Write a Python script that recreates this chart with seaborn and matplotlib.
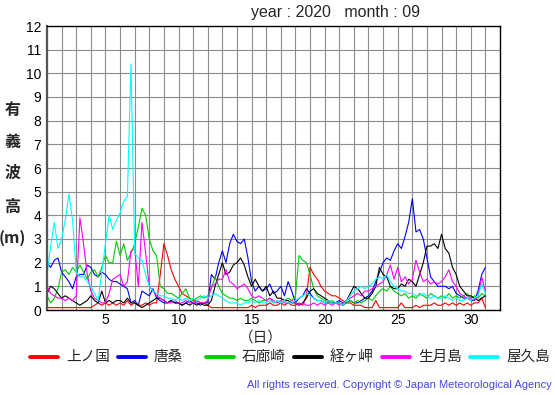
import numpy as np
import pandas as pd
import matplotlib
matplotlib.use("Agg")
import matplotlib.pyplot as plt
from matplotlib.lines import Line2D
import seaborn as sns

# 6-hourly samples, 1 Sep 00h .. 1 Oct 00h
days = np.arange(1, 31.01, 0.25)

stations = ["上ノ国", "唐桑", "石廊崎", "経ヶ岬", "生月島", "屋久島"]
colors = ["#ff0000", "#0000ff", "#00cc00", "#000000", "#ff00ff", "#00ffff"]

kaminokuni = [
    0.1, 0.1, 0.1, 0.1,  0.1, 0.1, 0.1, 0.1,  0.1, 0.1, 0.1, 0.1,  0.1, 0.2, 0.3, 0.2,
    0.3, 0.2, 0.3, 0.2,  0.3, 0.2, 0.4, 0.2,  0.3, 0.2, 0.2, 0.3,  0.2, 0.3, 0.3, 1.5,
    2.8, 2.3, 1.7, 1.3,  1.0, 0.7, 0.6, 0.5,  0.4, 0.4, 0.3, 0.3,  0.2, 0.1, 0.1, 0.1,
    0.1, 0.1, 0.1, 0.1,  0.1, 0.1, 0.1, 0.1,  0.2, 0.1, 0.2, 0.2,  0.2, 0.3, 0.2, 0.2,
    0.3, 0.2, 0.3, 0.2,  0.2, 0.3, 0.2, 0.6,  1.8, 1.5, 1.3, 1.0,  0.8, 0.7, 0.6, 0.6,
    0.5, 0.4, 0.3, 0.3,  0.2, 0.2, 0.2, 0.1,  0.1, 0.1, 0.4, 0.1,  0.1, 0.1, 0.1, 0.1,
    0.1, 0.3, 0.1, 0.1,  0.1, 0.2, 0.1, 0.2,  0.2, 0.2, 0.3, 0.2,  0.2, 0.3, 0.2, 0.3,
    0.2, 0.3, 0.2, 0.3,  0.2, 0.3, 0.3, 0.5,  0.1,
]
karakuwa = [
    2.0, 1.8, 2.1, 2.2,  1.6, 1.4, 1.2, 0.9,  1.4, 1.5, 1.5, 1.9,  1.8, 1.5, 1.4, 1.6,
    1.5, 1.3, 1.2, 1.2,  1.1, 1.0, 0.9, 0.3,  0.4, 0.2, 0.8, 0.7,  0.6, 0.9, 0.5, 0.4,
    0.3, 0.3, 0.4, 0.3,  0.3, 0.2, 0.3, 0.4,  0.3, 0.3, 0.2, 0.3,  0.3, 1.5, 1.3, 2.0,
    2.5, 2.0, 2.8, 3.2,  2.9, 2.8, 3.0, 2.2,  1.2, 0.8, 1.0, 0.8,  0.9, 1.1, 0.7, 0.8,
    1.0, 0.6, 1.2, 0.8,  0.3, 0.5, 0.6, 0.9,  0.7, 0.5, 0.4, 0.4,  0.3, 0.4, 0.3, 0.3,
    0.4, 0.3, 0.3, 0.4,  0.3, 0.3, 0.4, 0.5,  0.6, 0.8, 1.2, 1.6,  2.0, 2.2, 2.1, 2.5,
    2.8, 2.6, 3.1, 3.7,  4.7, 3.3, 3.4, 3.0,  2.2, 1.4, 1.2, 1.0,  1.0, 1.0, 0.9, 1.0,
    0.7, 0.6, 0.5, 0.5,  0.4, 0.4, 0.8, 1.5,  1.8,
]
irozaki = [
    0.6, 0.3, 0.5, 0.9,  1.6, 1.7, 1.5, 1.8,  1.6, 1.9, 1.6, 1.3,  1.6, 1.7, 1.4, 1.8,
    2.3, 2.0, 2.0, 2.9,  2.3, 2.8, 2.1, 2.4,  2.8, 3.5, 4.3, 4.0,  3.0, 2.5, 2.3, 1.0,
    0.9, 0.7, 0.7, 0.6,  0.5, 0.7, 0.9, 0.5,  0.4, 0.5, 0.6, 0.5,  0.6, 0.9, 1.4, 1.0,
    0.7, 0.6, 0.5, 0.5,  0.4, 0.5, 0.4, 0.4,  0.5, 0.4, 0.3, 0.4,  0.4, 0.5, 0.3, 0.4,
    0.3, 0.4, 0.5, 0.4,  0.6, 2.3, 2.1, 2.0,  1.5, 0.9, 0.6, 0.5,  0.4, 0.3, 0.4, 0.3,
    0.3, 0.2, 0.3, 0.4,  0.3, 0.4, 0.3, 0.4,  0.5, 0.4, 0.6, 0.8,  0.9, 0.8, 1.0, 0.8,
    0.7, 0.6, 0.7, 0.5,  0.6, 0.5, 0.7, 0.6,  0.5, 0.7, 0.6, 0.5,  0.6, 0.5, 0.7, 0.5,
    0.6, 0.5, 0.6, 0.7,  0.5, 0.6, 0.5, 0.7,  0.6,
]
kyogamisaki = [
    0.7, 1.0, 0.9, 0.7,  0.5, 0.6, 0.5, 0.4,  0.3, 0.2, 0.3, 0.4,  0.6, 0.4, 0.3, 0.8,
    0.3, 0.4, 0.3, 0.4,  0.4, 0.3, 0.5, 0.3,  0.3, 0.2, 0.1, 0.2,  0.3, 0.4, 0.5, 0.5,
    0.4, 0.3, 0.4, 0.3,  0.3, 0.2, 0.3, 0.2,  0.3, 0.2, 0.3, 0.2,  0.2, 0.4, 1.0, 1.5,
    2.0, 1.5, 1.6, 1.9,  2.0, 2.2, 1.9, 1.4,  1.0, 1.3, 1.0, 0.8,  1.0, 0.6, 0.8, 0.5,
    0.5, 0.4, 0.4, 0.3,  0.3, 0.2, 0.3, 0.5,  0.8, 0.9, 0.7, 0.6,  0.5, 0.4, 0.3, 0.3,
    0.3, 0.2, 0.4, 0.7,  1.0, 0.9, 0.7, 0.5,  0.5, 0.7, 1.0, 1.8,  1.5, 1.4, 1.0, 0.9,
    0.9, 1.1, 1.0, 1.3,  1.2, 1.0, 1.5, 2.0,  2.7, 2.7, 2.8, 2.6,  3.2, 2.6, 2.4, 1.8,
    1.5, 1.0, 0.8, 0.6,  0.6, 0.5, 0.4, 0.5,  0.6,
]
ikitsukishima = [
    1.0, 0.7, 0.6, 0.5,  0.5, 0.4, 0.5, 0.4,  0.6, 3.9, 2.8, 1.5,  0.8, 0.5, 0.4, 0.3,
    0.3, 0.7, 1.3, 1.4,  1.5, 1.0, 1.2, 2.5,  2.6, 1.0, 3.7, 2.4,  1.0, 0.8, 0.6, 0.5,
    0.4, 0.3, 0.3, 0.4,  0.3, 0.3, 0.4, 0.3,  0.3, 0.4, 0.3, 0.3,  0.4, 1.0, 1.1, 1.3,
    1.3, 1.7, 1.2, 1.1,  0.9, 1.0, 1.1, 0.9,  0.6, 0.5, 0.6, 0.5,  0.4, 0.5, 0.4, 0.3,
    0.4, 0.3, 0.3, 0.4,  0.3, 0.2, 0.3, 0.2,  0.2, 0.3, 0.2, 0.3,  0.2, 0.3, 0.2, 0.3,
    0.2, 0.3, 0.4, 0.5,  0.6, 0.7, 0.6, 0.8,  0.8, 0.9, 1.0, 1.1,  1.2, 1.5, 1.9, 1.3,
    1.8, 1.2, 1.4, 1.1,  1.3, 2.1, 1.6, 1.2,  1.3, 1.1, 1.2, 1.1,  1.2, 1.4, 1.7, 1.2,
    1.0, 0.7, 0.6, 0.5,  0.5, 0.4, 0.6, 1.4,  0.8,
]
yakushima = [
    1.5, 2.7, 3.7, 2.6,  3.0, 3.8, 4.9, 3.8,  1.6, 1.4, 1.4, 1.2,  1.0, 0.7, 0.4, 1.6,
    2.8, 4.0, 3.4, 3.8,  4.1, 4.6, 4.8, 10.4, 2.4, 2.2, 2.1, 1.5,  1.0, 0.8, 0.7, 0.6,
    0.6, 0.5, 0.5, 0.4,  0.5, 0.4, 0.5, 0.4,  0.5, 0.4, 0.5, 0.6,  0.5, 0.6, 0.7, 0.6,
    0.5, 0.4, 0.3, 0.3,  0.3, 0.2, 0.3, 0.3,  0.4, 0.3, 0.4, 0.3,  0.3, 0.4, 0.3, 0.4,
    0.3, 0.4, 0.3, 0.3,  0.4, 0.5, 0.6, 0.7,  0.6, 0.5, 0.4, 0.4,  0.3, 0.4, 0.3, 0.3,
    0.3, 0.2, 0.4, 0.6,  0.8, 0.9, 1.0, 0.9,  1.0, 1.1, 1.3, 1.4,  1.3, 1.5, 1.2, 1.0,
    0.9, 0.8, 0.8, 0.7,  0.7, 0.6, 0.6, 0.7,  0.6, 0.5, 0.6, 0.5,  0.5, 0.6, 0.5, 0.4,
    0.5, 0.4, 0.4, 0.5,  0.4, 0.5, 0.6, 1.1,  0.7,
]

series = [kaminokuni, karakuwa, irozaki, kyogamisaki, ikitsukishima, yakushima]

df = pd.DataFrame({
    "day": np.tile(days, len(stations)),
    "height": np.concatenate(series),
    "station": np.repeat(stations, len(days)),
})

sns.set_style("white")
plt.rcParams["font.family"] = ["Liberation Sans", "Noto Sans CJK JP"]

W, H = 555, 395
fig = plt.figure(figsize=(W / 100, H / 100), dpi=100)
ax = fig.add_axes([47 / W, 85 / H, 453 / W, 284 / H])

sns.lineplot(data=df, x="day", y="height", hue="station", hue_order=stations,
             palette=dict(zip(stations, colors)), estimator=None,
             linewidth=0.8, legend=False, ax=ax)

ax.set_xlim(1, 32)
ax.set_ylim(0, 12)
xt = np.arange(1, 33)
ax.set_xticks(xt)
ax.set_xticklabels([str(d) if d % 5 == 0 else "" for d in xt])
ax.set_yticks(np.arange(0, 13))
ax.tick_params(length=0, labelsize=10, colors="black")
ax.tick_params(axis="x", pad=2)
ax.tick_params(axis="y", pad=4)
ax.grid(True, color="#8c8c8c", linewidth=0.8)
ax.set_xlabel("")
ax.set_ylabel("")
for s in ax.spines.values():
    s.set_color("black")
    s.set_linewidth(1.0)
ax.spines["left"].set_color("#555555")
ax.spines["left"].set_linewidth(1.6)


def px(x, y):
    return x / W, 1 - y / H


fig.text(*px(251, 13), "year : 2020   month : 09", fontsize=11.5, ha="left", va="center")

for ch, y in zip(["有", "義", "波", "高", "(m)"], [110, 142, 173, 207, 238]):
    fig.text(*px(12.5, y), ch, fontsize=11.5, ha="center", va="center", fontweight="bold",
             family=["Noto Sans CJK JP", "DejaVu Sans"])

fig.text(*px(261, 338), "（日）", fontsize=10.5, ha="center", va="center")

for i, (name, c) in enumerate(zip(stations, colors)):
    x0 = 30 + 88 * i
    fig.add_artist(Line2D([x0 / W, (x0 + 28) / W], [1 - 357 / H] * 2, color=c, linewidth=2.8))
    fig.text(*px(x0 + 36, 357), name, fontsize=10.5, ha="left", va="center")

fig.text(*px(552, 385), "All rights reserved. Copyright © Japan Meteorological Agency",
         fontsize=8, color="#4646e6", ha="right", va="center")

fig.savefig("out.png", dpi=100)
